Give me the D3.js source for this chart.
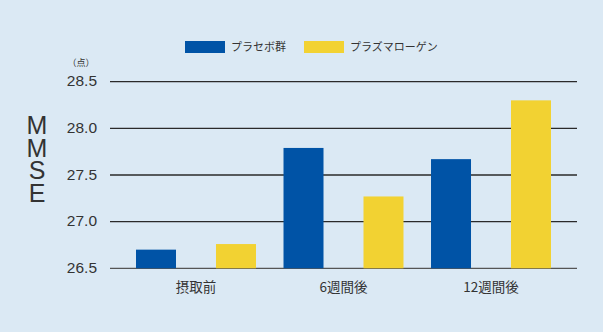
<!DOCTYPE html>
<html>
<head>
<meta charset="utf-8">
<script src="https://cdn.jsdelivr.net/npm/d3@7"></script>
<style>
  html, body { margin: 0; padding: 0; background: #dbe9f4; }
  svg { display: block; }
  text { font-family: "Noto Sans CJK JP", "Noto Sans", sans-serif; fill: #333; }
</style>
</head>
<body>
<script>
// MMSE scores by measurement point
const categories = ["摂取前", "6週間後", "12週間後"];
const seriesNames = ["プラセボ群", "プラズマローゲン"];
const placebo = [26.70, 27.79, 27.67];
const plasmalogen = [26.76, 27.27, 28.30];
const yTicks = [26.5, 27.0, 27.5, 28.0, 28.5];
const yTickLabels = ["26.5", "27.0", "27.5", "28.0", "28.5"];
const colors = ["#0053a6", "#f2d232"];

const W = 603, H = 332;
const svg = d3.select("body").append("svg").attr("width", W).attr("height", H);
svg.append("rect").attr("width", W).attr("height", H).attr("fill", "#dbe9f4");

const plotLeft = 110, plotRight = 577, plotTop = 81.7, plotBottom = 268.3;

const y = d3.scaleLinear().domain([26.5, 28.5]).range([plotBottom, plotTop]);
const x0 = d3.scaleBand().domain(categories).range([plotLeft, plotRight])
  .paddingInner(0).paddingOuter(0.083);
const x1 = d3.scaleBand().domain(seriesNames).range([0, x0.bandwidth()])
  .paddingInner(0.5).paddingOuter(0.172);

// Horizontal grid lines
svg.append("g").selectAll("line").data(yTicks).join("line")
  .attr("x1", plotLeft).attr("x2", plotRight)
  .attr("y1", d => y(d)).attr("y2", d => y(d))
  .attr("stroke", d => d === 26.5 ? "#555" : "#2a2a2a")
  .attr("stroke-width", 1.3);

// Y tick labels
svg.append("g").selectAll("text").data(yTicks).join("text")
  .attr("x", 97).attr("y", d => y(d) + 4.5)
  .attr("text-anchor", "end")
  .attr("font-size", 15.5)
  .style("font-family", "'Liberation Sans', Arial, sans-serif")
  .text((d, i) => yTickLabels[i]);

// Unit
svg.append("text").attr("x", 81).attr("y", 66).attr("text-anchor", "middle")
  .attr("font-size", 9).text("（点）");

// Vertical axis title, set upright in a vertical line
svg.append("text")
  .attr("x", 37).attr("y", 111)
  .attr("font-size", 25)
  .style("font-family", "'Liberation Sans', Arial, sans-serif")
  .style("writing-mode", "vertical-rl")
  .style("text-orientation", "upright")
  .style("letter-spacing", "-5.5px")
  .attr("fill", "#222")
  .text("MMSE");

// Bars
const rows = categories.map((c, i) => ({ cat: c, vals: [placebo[i], plasmalogen[i]] }));
const groups = svg.append("g").selectAll("g").data(rows).join("g")
  .attr("transform", d => `translate(${x0(d.cat)},0)`);
groups.selectAll("rect").data(d => d.vals.map((v, j) => ({ name: seriesNames[j], v, j })))
  .join("rect")
  .attr("x", d => x1(d.name))
  .attr("width", x1.bandwidth())
  .attr("y", d => y(d.v))
  .attr("height", d => y(26.5) - y(d.v))
  .attr("fill", d => colors[d.j]);

// Category labels
svg.append("g").selectAll("text").data(categories).join("text")
  .attr("x", d => x0(d) + x0.bandwidth() / 2)
  .attr("y", 292)
  .attr("text-anchor", "middle")
  .attr("font-size", 13.5)
  .text(d => d);

// Legend
const legendX = [185, 304];
const lg = svg.append("g").selectAll("g").data(seriesNames).join("g")
  .attr("transform", (d, i) => `translate(${legendX[i]},41)`);
lg.append("rect").attr("width", 40).attr("height", 12).attr("fill", (d, i) => colors[i]);
lg.append("text").attr("x", 46).attr("y", 10).attr("font-size", 11).text(d => d);
</script>
</body>
</html>
